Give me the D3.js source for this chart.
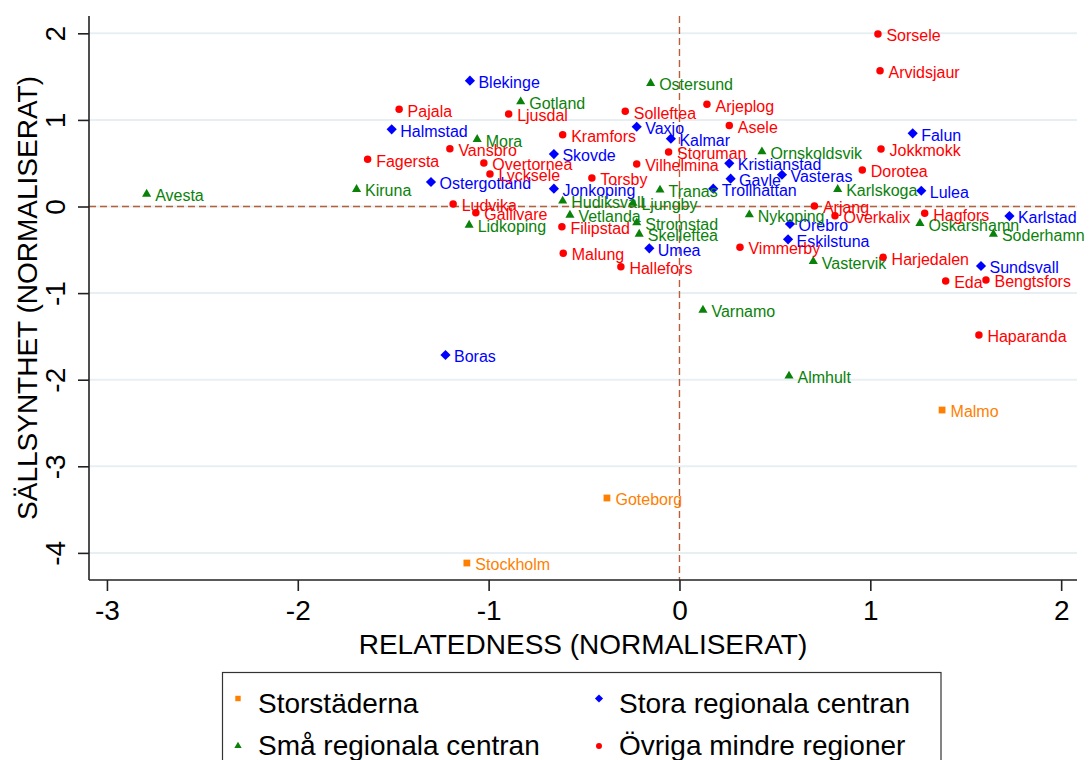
<!DOCTYPE html>
<html>
<head>
<meta charset="utf-8">
<script src="https://cdn.jsdelivr.net/npm/d3@7"></script>
<style>
  html, body { margin: 0; padding: 0; background: #fff; }
  svg { display: block; font-family: "Liberation Sans", Arial, Helvetica, sans-serif; }
</style>
</head>
<body>
<svg id="chart" width="1092" height="760"></svg>
<script>
// Regions by type: [name, relatedness, sällsynthet]
const storstaderna = [
  ["Stockholm", -1.114, -4.117],
  ["Goteborg", -0.380, -3.366],
  ["Malmo", 1.376, -2.350]
];

const storaRegionala = [
  ["Blekinge", -1.098, 1.453],
  ["Halmstad", -1.508, 0.891],
  ["Vaxjo", -0.224, 0.921],
  ["Kalmar", -0.045, 0.783],
  ["Skovde", -0.658, 0.606],
  ["Ostergotland", -1.302, 0.283],
  ["Jonkoping", -0.658, 0.206],
  ["Kristianstad", 0.261, 0.499],
  ["Gavle", 0.268, 0.321],
  ["Vasteras", 0.537, 0.367],
  ["Trollhattan", 0.177, 0.206],
  ["Falun", 1.222, 0.845],
  ["Lulea", 1.267, 0.182],
  ["Karlstad", 1.729, -0.110],
  ["Orebro", 0.579, -0.202],
  ["Eskilstuna", 0.569, -0.379],
  ["Sundsvall", 1.580, -0.687],
  ["Umea", -0.158, -0.483],
  ["Boras", -1.226, -1.715]
];

const smaRegionala = [
  ["Avesta", -2.792, 0.144],
  ["Kiruna", -1.692, 0.199],
  ["Mora", -1.060, 0.776],
  ["Gotland", -0.832, 1.210],
  ["Ostersund", -0.151, 1.423],
  ["Lidkoping", -1.102, -0.214],
  ["Hudiksvall", -0.612, 0.064],
  ["Vetlanda", -0.574, -0.098],
  ["Ljungby", -0.244, 0.040],
  ["Stromstad", -0.224, -0.187],
  ["Skelleftea", -0.211, -0.318],
  ["Tranas", -0.102, 0.191],
  ["Ornskoldsvik", 0.432, 0.633],
  ["Karlskoga", 0.829, 0.199],
  ["Nykoping", 0.366, -0.095],
  ["Oskarshamn", 1.260, -0.194],
  ["Soderhamn", 1.645, -0.318],
  ["Vastervik", 0.701, -0.633],
  ["Varnamo", 0.123, -1.195],
  ["Almhult", 0.574, -1.957]
];

const ovrigaMindre = [
  ["Sorsele", 1.040, 1.992],
  ["Arvidsjaur", 1.051, 1.568],
  ["Pajala", -1.469, 1.122],
  ["Ljusdal", -0.895, 1.068],
  ["Solleftea", -0.284, 1.099],
  ["Arjeplog", 0.144, 1.180],
  ["Asele", 0.261, 0.935],
  ["Kramfors", -0.612, 0.829],
  ["Fagersta", -1.634, 0.545],
  ["Vansbro", -1.203, 0.667],
  ["Overtornea", -1.025, 0.502],
  ["Lycksele", -0.993, 0.375],
  ["Vilhelmina", -0.224, 0.491],
  ["Storuman", -0.057, 0.629],
  ["Torsby", -0.459, 0.329],
  ["Jokkmokk", 1.056, 0.664],
  ["Dorotea", 0.958, 0.421],
  ["Ludvika", -1.186, 0.029],
  ["Gallivare", -1.067, -0.072],
  ["Filipstad", -0.616, -0.233],
  ["Malung", -0.609, -0.540],
  ["Hallefors", -0.307, -0.695],
  ["Vimmerby", 0.317, -0.471],
  ["Arjang", 0.707, 0.006],
  ["Overkalix", 0.815, -0.106],
  ["Hagfors", 1.285, -0.079],
  ["Harjedalen", 1.067, -0.587],
  ["Eda", 1.395, -0.860],
  ["Bengtsfors", 1.606, -0.849],
  ["Haparanda", 1.569, -1.484]
];

const xTicks = [-3, -2, -1, 0, 1, 2];
const yTicks = [2, 1, 0, -1, -2, -3, -4];
const xTitle = "RELATEDNESS (NORMALISERAT)";
const yTitle = "SÄLLSYNTHET (NORMALISERAT)";

const groups = [
  { label: "Storstäderna", data: storstaderna, color: "#ff8000", shape: "square" },
  { label: "Stora regionala centran", data: storaRegionala, color: "#0000ff", shape: "diamond" },
  { label: "Små regionala centran", data: smaRegionala, color: "#0a820a", shape: "triangle" },
  { label: "Övriga mindre regioner", data: ovrigaMindre, color: "#ff0000", shape: "circle" }
];

const svg = d3.select("#chart");
const plot = { left: 89, right: 1077, top: 16, bottom: 580 };

const x = d3.scaleLinear().domain([-3.094, 2.083]).range([plot.left, plot.right]);
const y = d3.scaleLinear().domain([-4.313, 2.2]).range([plot.bottom, plot.top]);

// Tick labels use a plain hyphen for negatives
const tickFmt = d => String(d);

// Horizontal grid lines
svg.append("g")
  .selectAll("line")
  .data(yTicks)
  .join("line")
  .attr("x1", plot.left).attr("x2", plot.right)
  .attr("y1", d => y(d)).attr("y2", d => y(d))
  .attr("stroke", "#e8eff2").attr("stroke-width", 2);

// Dashed reference lines through the origin
const refColor = "#b5603a";
svg.append("line")
  .attr("x1", plot.left).attr("x2", plot.right)
  .attr("y1", y(0)).attr("y2", y(0))
  .attr("stroke", refColor).attr("stroke-width", 1.4)
  .attr("stroke-dasharray", "7,4");
svg.append("line")
  .attr("x1", x(0)).attr("x2", x(0))
  .attr("y1", plot.top).attr("y2", plot.bottom)
  .attr("stroke", refColor).attr("stroke-width", 1.4)
  .attr("stroke-dasharray", "7,4");

// Axes
const xAxis = d3.axisBottom(x).tickValues(xTicks).tickSize(11).tickPadding(8)
  .tickFormat(tickFmt);
const gx = svg.append("g").attr("transform", `translate(0,${plot.bottom})`).call(xAxis);
gx.select(".domain").attr("d", `M${plot.left},0H${plot.right}`).attr("stroke", "#222").attr("stroke-width", 1.6);
gx.selectAll(".tick line").attr("stroke", "#222").attr("stroke-width", 1.6);
gx.selectAll(".tick text")
  .attr("font-family", "Liberation Sans, Arial, sans-serif")
  .attr("font-size", 28).attr("fill", "#000")
  .attr("dy", null).attr("y", 40);

const yAxis = d3.axisLeft(y).tickValues(yTicks).tickSize(11).tickFormat(tickFmt);
const gy = svg.append("g").attr("transform", `translate(${plot.left},0)`).call(yAxis);
gy.select(".domain").attr("d", `M0,${plot.top}V${plot.bottom}`).attr("stroke", "#222").attr("stroke-width", 1.6);
gy.selectAll(".tick line").attr("stroke", "#222").attr("stroke-width", 1.6);
gy.selectAll(".tick text")
  .attr("font-family", "Liberation Sans, Arial, sans-serif")
  .attr("font-size", 28).attr("fill", "#000")
  .attr("x", null).attr("dy", null)
  .attr("text-anchor", "middle")
  .attr("transform", "translate(-24,0) rotate(-90)");

// Axis titles
svg.append("text")
  .attr("x", (plot.left + plot.right) / 2).attr("y", 654)
  .attr("text-anchor", "middle").attr("font-size", 28).attr("fill", "#000")
  .text(xTitle);
svg.append("text")
  .attr("transform", `translate(37,${(plot.top + plot.bottom) / 2}) rotate(-90)`)
  .attr("text-anchor", "middle").attr("font-size", 28).attr("fill", "#000")
  .text(yTitle);

// Marker shapes
function markerPath(shape, scale) {
  const s = scale || 1;
  if (shape === "square") return d3.symbol(d3.symbolSquare, 46 * s * s)();
  if (shape === "diamond") return d3.symbol(d3.symbolSquare, 52 * s * s)();
  if (shape === "triangle") return d3.symbol(d3.symbolTriangle, 36 * s * s)();
  return d3.symbol(d3.symbolCircle, 44 * s * s)();
}
function markerTransform(shape, px, py) {
  return shape === "diamond" ? `translate(${px},${py}) rotate(45)` : `translate(${px},${py})`;
}

// Points and their labels
const pts = svg.append("g");
groups.forEach(g => {
  const gg = pts.append("g");
  gg.selectAll("path")
    .data(g.data)
    .join("path")
    .attr("d", markerPath(g.shape))
    .attr("transform", d => markerTransform(g.shape, x(d[1]), y(d[2])))
    .attr("fill", g.color);
  gg.selectAll("text")
    .data(g.data)
    .join("text")
    .attr("x", d => x(d[1]) + 8.5)
    .attr("y", d => y(d[2]))
    .attr("dy", "0.45em")
    .attr("font-size", 16)
    .attr("fill", g.color)
    .text(d => d[0]);
});

// Legend
const legendBox = { x: 222.5, y: 672.5, w: 718.5, h: 100 };
svg.append("rect")
  .attr("x", legendBox.x).attr("y", legendBox.y)
  .attr("width", legendBox.w).attr("height", legendBox.h)
  .attr("fill", "#fff").attr("stroke", "#333").attr("stroke-width", 1.2);

const colX = [238, 599];
const rowMarkerY = [698.5, 746];
const rowTextY = [712.7, 754.5];
groups.forEach((g, i) => {
  const col = i % 2, row = Math.floor(i / 2);
  svg.append("path")
    .attr("d", markerPath(g.shape, 0.8))
    .attr("transform", markerTransform(g.shape, colX[col], rowMarkerY[row]))
    .attr("fill", g.color);
  svg.append("text")
    .attr("x", colX[col] + 20).attr("y", rowTextY[row])
    .attr("font-size", 28).attr("fill", "#000")
    .text(g.label);
});
</script>
</body>
</html>
